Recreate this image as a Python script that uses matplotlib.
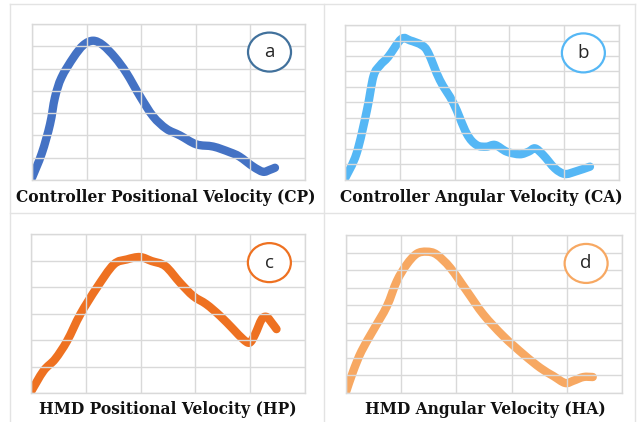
import matplotlib
matplotlib.use("Agg")
import matplotlib.pyplot as plt
from matplotlib.patches import Ellipse, PathPatch
from matplotlib.path import Path
from matplotlib.lines import Line2D

# traced velocity profiles, x in grid columns (0-5), y in grid rows
cp_x = [0.0, 0.18, 0.33, 0.42, 0.54, 0.76, 0.94, 1.12, 1.30, 1.52, 1.73, 1.98, 2.22, 2.46,
        2.71, 3.01, 3.32, 3.62, 3.80, 4.05, 4.23, 4.35, 4.45]
cp_y = [0.1, 1.2, 2.5, 3.7, 4.6, 5.5, 6.05, 6.25, 6.05, 5.5, 4.8, 3.75, 2.85, 2.3,
        2.0, 1.6, 1.5, 1.25, 1.05, 0.6, 0.37, 0.45, 0.55]

ca_x = [0.0, 0.21, 0.40, 0.52, 0.64, 0.79, 1.03, 1.19, 1.40, 1.52, 1.73, 1.98, 2.22, 2.40,
        2.58, 2.74, 2.95, 3.19, 3.35, 3.47, 3.62, 3.83, 4.01, 4.20, 4.47]
ca_y = [0.1, 1.7, 4.5, 6.7, 7.4, 7.95, 9.1, 9.0, 8.7, 8.2, 6.45, 4.95, 3.0, 2.26,
        2.15, 2.26, 1.83, 1.66, 1.83, 2.04, 1.6, 0.75, 0.39, 0.54, 0.86]

hp_x = [0.0, 0.23, 0.44, 0.66, 0.90, 1.20, 1.51, 1.75, 1.99, 2.20, 2.45, 2.72, 2.96, 3.20,
        3.45, 3.69, 3.87, 3.99, 4.09, 4.21, 4.30, 4.39, 4.48]
hp_y = [0.05, 0.84, 1.28, 1.97, 2.97, 3.97, 4.85, 5.04, 5.13, 4.98, 4.79, 4.16, 3.66, 3.35,
        2.91, 2.41, 2.03, 1.90, 2.22, 2.78, 2.87, 2.66, 2.41]

ha_x = [0.0, 0.13, 0.28, 0.50, 0.74, 0.92, 1.10, 1.28, 1.46, 1.64, 1.89, 2.19, 2.49, 2.85,
        3.22, 3.52, 3.76, 3.97, 4.12, 4.30, 4.47]
ha_y = [0.05, 1.24, 2.38, 3.61, 4.94, 6.37, 7.32, 7.93, 8.05, 7.89, 7.13, 5.80, 4.47, 3.24,
        2.19, 1.43, 0.96, 0.57, 0.70, 0.91, 0.91]

titles = ["Controller Positional Velocity (CP)", "Controller Angular Velocity (CA)",
          "HMD Positional Velocity (HP)", "HMD Angular Velocity (HA)"]
tags = ["a", "b", "c", "d"]
n_rows = [7, 10, 6, 9]

line_cols = ["#4472C4", "#55B7F5", "#EE7121", "#F7A862"]
ring_cols = ["#41719C", "#55B7F5", "#EE7121", "#F7A862"]


def smooth_path(xs, ys):
    # cubic bezier through every point (catmull-rom style tangents)
    pts = list(zip(xs, ys))
    n = len(pts)
    verts = [pts[0]]
    codes = [Path.MOVETO]
    for k in range(n - 1):
        p0 = pts[max(k - 1, 0)]
        p1 = pts[k]
        p2 = pts[k + 1]
        p3 = pts[min(k + 2, n - 1)]
        c1 = (p1[0] + (p2[0] - p0[0]) / 6, p1[1] + (p2[1] - p0[1]) / 6)
        c2 = (p2[0] - (p3[0] - p1[0]) / 6, p2[1] - (p3[1] - p1[1]) / 6)
        verts += [c1, c2, p2]
        codes += [Path.CURVE4] * 3
    return Path(verts, codes)


W, H = 640, 422
fig = plt.figure(figsize=(6.4, 4.22), dpi=100)

# panel boxes in pixels: left, top, right, bottom
boxes = [(32, 24, 305, 180), (345, 25, 619, 180),
         (31, 234, 305, 393), (346, 235, 622, 393)]
title_pos = [(166, 197), (481, 197), (168, 409), (485, 409)]
series = [(cp_x, cp_y), (ca_x, ca_y), (hp_x, hp_y), (ha_x, ha_y)]

grid_col = "#D9D9D9"

for i in range(4):
    l, t, r, b = boxes[i]
    ax = fig.add_axes([l / W, (H - b) / H, (r - l) / W, (b - t) / H])
    ax.set_xlim(0, 5)
    ax.set_ylim(0, n_rows[i])
    ax.set_xticks(range(6))
    ax.set_yticks(range(n_rows[i] + 1))
    ax.grid(True, color=grid_col, lw=1.0)
    ax.tick_params(length=0, labelbottom=False, labelleft=False)
    for s in ax.spines.values():
        s.set_color(grid_col)
        s.set_linewidth(1.0)
    xs, ys = series[i]
    ax.add_patch(PathPatch(smooth_path(xs, ys), facecolor="none", edgecolor=line_cols[i],
                           lw=6.0, capstyle="round", joinstyle="round"))

    # tag ring in the top right corner
    pw, ph = r - l, b - t
    ax.add_patch(Ellipse((0.87, 0.82), 43 / pw, 39 / ph, transform=ax.transAxes,
                         facecolor="white", edgecolor=ring_cols[i], lw=1.6, zorder=5))
    ax.text(0.87, 0.82, tags[i], transform=ax.transAxes, ha="center", va="center",
            fontsize=13.5, color="#262626", family="Open Sans", zorder=6)

    tx, ty = title_pos[i]
    fig.text(tx / W, (H - ty) / H, titles[i], ha="center", va="center",
             fontsize=11.2, fontweight="bold", family="DejaVu Serif", color="#111111")

# outer frame and dividers
frame = [((10, 635), (4, 4)), ((10, 10), (4, 422)), ((635, 635), (4, 422)),
         ((324, 324), (4, 422)), ((10, 635), (213, 213))]
for xx, yy in frame:
    fig.add_artist(Line2D([x / W for x in xx], [(H - y) / H for y in yy],
                          color="#E3E3E3", lw=1.0))

fig.savefig("out.png", dpi=100)
